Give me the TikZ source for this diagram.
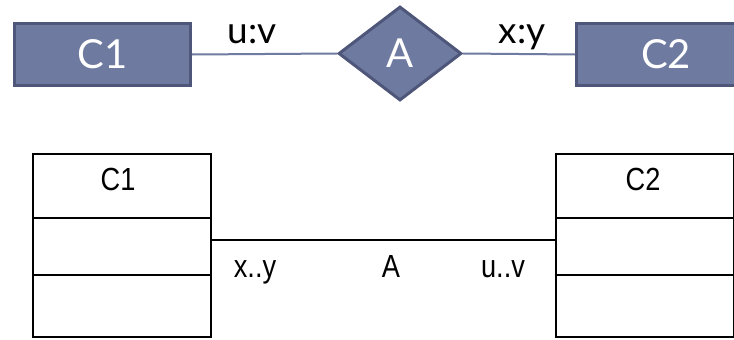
\documentclass[tikz,border=0pt]{standalone}
\usepackage{fontspec}
\usetikzlibrary{shapes.geometric,calc}
\newfontfamily\topfont{Lato}
\newfontfamily\botfont{Liberation Sans}
\definecolor{erfill}{HTML}{6F7AA0}
\definecolor{erborder}{HTML}{4E5779}
\definecolor{erline}{HTML}{6F7BA0}
\tikzset{
  erbox/.style={draw=erborder, fill=erfill, line width=3pt, rectangle, inner sep=0pt, text=white, font=\topfont\fontsize{40}{40}\selectfont},
  erdia/.style={draw=erborder, fill=erfill, line width=3pt, diamond, inner sep=0pt, text=white, font=\topfont\fontsize{40}{40}\selectfont},
  erconn/.style={draw=erline, line width=2pt},
  erlabel/.style={anchor=base, inner sep=0pt, text=black, font=\topfont\fontsize{37}{37}\selectfont},
  umlbox/.style={draw=black, line width=2pt, rectangle, inner sep=0pt, minimum width=178pt, minimum height=183pt},
  umlconn/.style={draw=black, line width=2pt},
  umltext/.style={anchor=base, inner sep=0pt, text=black, font=\botfont\fontsize{32}{32}\selectfont},
}
\begin{document}
\begin{tikzpicture}[x=1pt, y=-1pt]
\clip (0,0) rectangle (734,340);
\fill[white] (0,0) rectangle (734,340);
% top ER diagram
\node[erbox, minimum width=176.5pt, minimum height=62pt] (c1t) at (102.3,54.5) {C1};
\node[erdia, minimum width=123pt, minimum height=94pt] (at) at (400,53.5) {A};
\node[erbox, minimum width=179pt, minimum height=62pt] (c2t) at (666,54.5) {C2};
\draw[erconn] (c1t.east) -- (at.west);
\draw[erconn] (at.east) -- (c2t.west);
\node[erlabel] (luv) at (252,43) {u:v};
\node[erlabel] (lxy) at (522,43) {x:y};
% bottom UML diagram
\node[umlbox] (c1b) at (122,245.5) {};
\node[umlbox] (c2b) at (644.5,245.5) {};
\draw[umlconn] ($(c1b.north west)+(0,65)$) -- ($(c1b.north east)+(0,65)$);
\draw[umlconn] ($(c1b.north west)+(0,122)$) -- ($(c1b.north east)+(0,122)$);
\draw[umlconn] ($(c2b.north west)+(0,65)$) -- ($(c2b.north east)+(0,65)$);
\draw[umlconn] ($(c2b.north west)+(0,122)$) -- ($(c2b.north east)+(0,122)$);
\node[umltext] (t1) at (118,190) {\scalebox{0.85}[1]{C1}};
\node[umltext] (t2) at (643,190) {\scalebox{0.85}[1]{C2}};
\draw[umlconn] ([yshift=5.5pt]c1b.east) -- ([yshift=5.5pt]c2b.west);
\node[umltext] (mxy) at (255,277) {\scalebox{0.85}[1]{x..y}};
\node[umltext] (ma) at (391,277) {\scalebox{0.85}[1]{A}};
\node[umltext] (muv) at (503,277) {\scalebox{0.85}[1]{u..v}};
\end{tikzpicture}
\end{document}
